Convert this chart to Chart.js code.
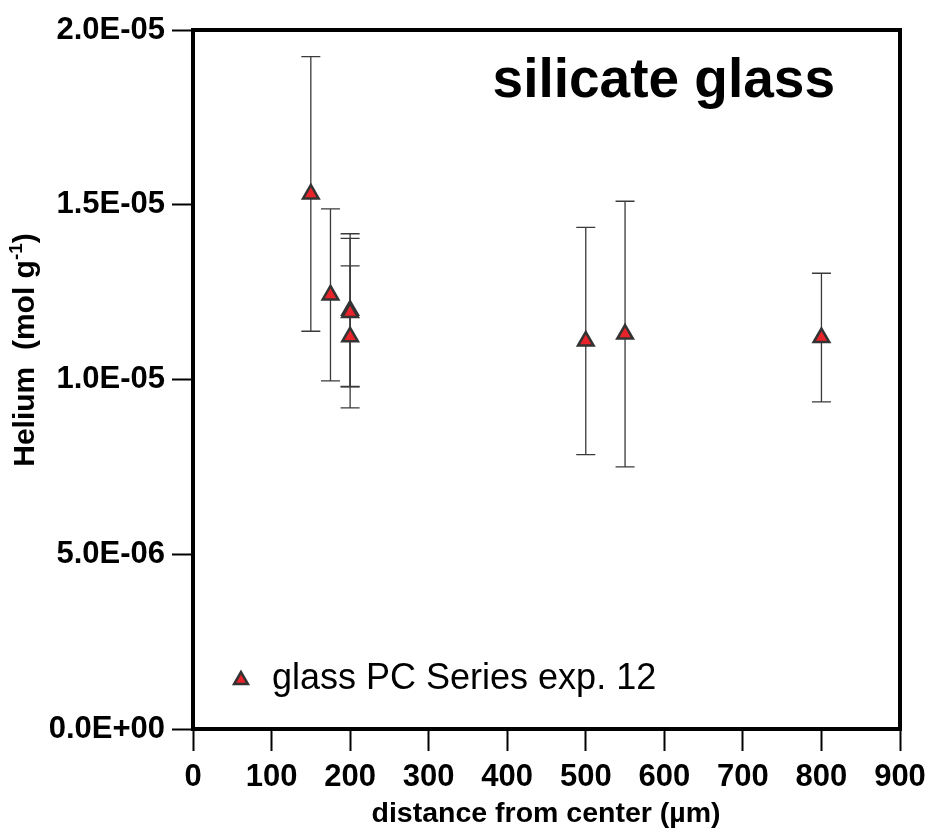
<!DOCTYPE html>
<html>
<head>
<meta charset="utf-8">
<script src="https://cdn.jsdelivr.net/npm/chart.js@4/dist/chart.umd.min.js"></script>
<style>
  html, body { margin: 0; padding: 0; background: #fff; }
  canvas { display: block; }
</style>
</head>
<body>
<canvas id="heChart" width="931" height="833"></canvas>
<script>
// distance from center (µm) and helium content (mol/g) with +/- error
const distance = [150, 175, 200, 200, 200, 500, 550, 800];
const helium = [1.531e-5, 1.242e-5, 1.198e-5, 1.192e-5, 1.122e-5, 1.110e-5, 1.130e-5, 1.120e-5];
const heliumErr = [0.393e-5, 0.246e-5, 0.219e-5, 0.212e-5, 0.203e-5, 0.325e-5, 0.380e-5, 0.184e-5];
const xTicks = [0, 100, 200, 300, 400, 500, 600, 700, 800, 900];
const yTicks = [0, 5e-6, 1e-5, 1.5e-5, 2e-5];

const FONT = "'Liberation Sans', Arial, Helvetica, sans-serif";

function sci(v) {
  if (Math.abs(v) < 1e-12) return "0.0E+00";
  const e = Math.floor(Math.log10(Math.abs(v)) + 1e-9);
  const m = v / Math.pow(10, e);
  return m.toFixed(1) + "E" + (e < 0 ? "-" : "+") + String(Math.abs(e)).padStart(2, "0");
}

const errorBars = {
  id: "errorBars",
  beforeDatasetsDraw(chart) {
    const { ctx, scales: { x, y } } = chart;
    ctx.save();
    ctx.strokeStyle = "#3a3a3a";
    ctx.lineWidth = 1.3;
    distance.forEach((d, i) => {
      const px = x.getPixelForValue(d);
      const top = y.getPixelForValue(helium[i] + heliumErr[i]);
      const bot = y.getPixelForValue(helium[i] - heliumErr[i]);
      ctx.beginPath();
      ctx.moveTo(px, top); ctx.lineTo(px, bot);
      ctx.moveTo(px - 9.5, top); ctx.lineTo(px + 9.5, top);
      ctx.moveTo(px - 9.5, bot); ctx.lineTo(px + 9.5, bot);
      ctx.stroke();
    });
    ctx.restore();
  }
};

const decorations = {
  id: "decorations",
  afterDraw(chart) {
    const { ctx, chartArea: a } = chart;
    ctx.save();
    // top and right frame
    ctx.strokeStyle = "#000";
    ctx.lineWidth = 4;
    ctx.beginPath();
    ctx.moveTo(a.left - 2, a.top);
    ctx.lineTo(a.right, a.top);
    ctx.lineTo(a.right, a.bottom + 2);
    ctx.stroke();

    // annotation
    ctx.fillStyle = "#000";
    ctx.font = "bold 55px " + FONT;
    ctx.textAlign = "right";
    ctx.textBaseline = "alphabetic";
    ctx.fillText("silicate glass", 835, 97);

    // legend inside plot
    const ds = chart.data.datasets[0];
    ctx.fillStyle = ds.backgroundColor;
    ctx.strokeStyle = ds.borderColor;
    ctx.lineWidth = 2.5;
    Chart.helpers.drawPoint(ctx, { pointStyle: "triangle", radius: 8, rotation: 0, borderWidth: 2.5 }, 241, 680);
    ctx.fillStyle = "#000";
    ctx.font = "36px " + FONT;
    ctx.textAlign = "left";
    ctx.textBaseline = "middle";
    ctx.fillText(ds.label, 272, 679);

    // x axis title
    ctx.font = "bold 28.5px " + FONT;
    ctx.textAlign = "center";
    ctx.textBaseline = "middle";
    ctx.fillText("distance from center (\u00b5m)", 546, 814);

    // y axis title with superscript
    ctx.translate(26, 350);
    ctx.rotate(-Math.PI / 2);
    const main = "Helium  (mol g";
    ctx.font = "bold 30px " + FONT;
    const w1 = ctx.measureText(main).width;
    ctx.font = "bold 19px " + FONT;
    const w2 = ctx.measureText("-1").width;
    ctx.font = "bold 30px " + FONT;
    const w3 = ctx.measureText(")").width;
    let sx = -(w1 + w2 + w3) / 2;
    ctx.textAlign = "left";
    ctx.textBaseline = "middle";
    ctx.fillText(main, sx, 0);
    ctx.font = "bold 19px " + FONT;
    ctx.fillText("-1", sx + w1, -9);
    ctx.font = "bold 30px " + FONT;
    ctx.fillText(")", sx + w1 + w2, 0);
    ctx.restore();
  }
};

new Chart(document.getElementById("heChart"), {
  type: "scatter",
  data: {
    datasets: [{
      label: "glass PC Series exp. 12",
      data: distance.map((d, i) => ({ x: d, y: helium[i] })),
      pointStyle: "triangle",
      pointRadius: 9,
      pointHoverRadius: 9,
      pointBorderWidth: 2.5,
      backgroundColor: "#e8242a",
      borderColor: "#333333"
    }]
  },
  options: {
    responsive: false,
    animation: false,
    events: [],
    layout: { padding: { top: 30, right: 31, left: 0, bottom: 0 } },
    plugins: {
      legend: { display: false },
      tooltip: { enabled: false }
    },
    scales: {
      x: {
        type: "linear",
        min: 0, max: 900,
        afterFit: s => { s.height = 104; s.paddingLeft = 0; s.paddingRight = 0; },
        afterBuildTicks: s => { s.ticks = xTicks.map(v => ({ value: v })); },
        ticks: {
          color: "#000",
          padding: 8,
          maxRotation: 0,
          font: { family: FONT, size: 31, weight: "bold" }
        },
        grid: { drawOnChartArea: false, tickLength: 22, tickWidth: 2, tickColor: "#000" },
        border: { display: true, width: 4, color: "#000" }
      },
      y: {
        min: 0, max: 2e-5,
        afterFit: s => { s.width = 193; s.paddingTop = 0; s.paddingBottom = 0; },
        afterBuildTicks: s => { s.ticks = yTicks.map(v => ({ value: v })); },
        ticks: {
          color: "#000",
          padding: 7,
          callback: v => sci(v),
          font: { family: FONT, size: 31, weight: "bold" }
        },
        grid: { drawOnChartArea: false, tickLength: 21, tickWidth: 2, tickColor: "#000" },
        border: { display: true, width: 4, color: "#000" }
      }
    }
  },
  plugins: [errorBars, decorations]
});
</script>
</body>
</html>
